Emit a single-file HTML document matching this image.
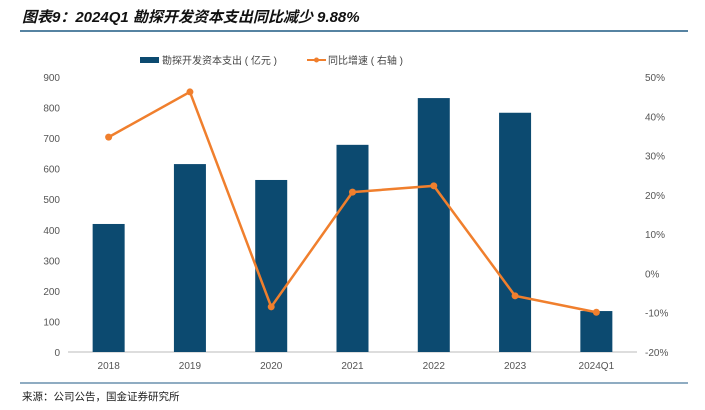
<!DOCTYPE html>
<html><head><meta charset="utf-8"><style>
body{margin:0;background:#fff;}
svg text{font-family:"Liberation Sans","Noto Sans CJK SC",sans-serif;}
</style></head><body>
<svg id="c" width="705" height="405" xmlns="http://www.w3.org/2000/svg">
<text x="22" y="22" font-size="15" font-weight="bold" font-style="italic" fill="#111">图表9：2024Q1 勘探开发资本支出同比减少 9.88%</text>
<line x1="20" y1="31" x2="688" y2="31" stroke="#1f5a84" stroke-width="1.5"/>
<g>
<rect x="140" y="57" width="19" height="6" fill="#0c4a70"/>
<text x="162" y="64" font-size="10" fill="#444">勘探开发资本支出 ( 亿元 )</text>
<line x1="307" y1="60" x2="326" y2="60" stroke="#f07f2d" stroke-width="2"/>
<circle cx="316.5" cy="60" r="2.5" fill="#f07f2d"/>
<text x="328" y="64" font-size="10" fill="#444">同比增速 ( 右轴 )</text>
</g>
<g id="plot"></g>
<line x1="20" y1="383" x2="688" y2="383" stroke="#1f5a84" stroke-width="1"/>
<text x="22" y="400" font-size="10.5" fill="#222">来源：公司公告，国金证券研究所</text>
</svg>
<script>
const categories=["2018","2019","2020","2021","2022","2023","2024Q1"];
const capex=[419,615,563,678,831,783,134];
const growth=[34.7,46.2,-8.5,20.7,22.3,-5.7,-9.88];
const leftTicks=[0,100,200,300,400,500,600,700,800,900];
const rightTicks=[-20,-10,0,10,20,30,40,50];
const NS="http://www.w3.org/2000/svg";
const g=document.getElementById('plot');
const x0=68,x1=637,yTop=77,yBot=352;
const bw=(x1-x0)/categories.length;
const xc=i=>x0+bw*(i+0.5);
const yL=v=>yBot-(v/900)*(yBot-yTop);
const yR=v=>yBot-((v+20)/70)*(yBot-yTop);
function el(t,a){const e=document.createElementNS(NS,t);for(const k in a)e.setAttribute(k,a[k]);g.appendChild(e);return e;}
const ax=el('line',{x1:x0,y1:yBot,x2:x1,y2:yBot,stroke:'#bbb','stroke-width':1});


leftTicks.forEach(v=>{const t=el('text',{x:60,y:yL(v)+4,'font-size':10,fill:'#555','text-anchor':'end'});t.textContent=v;

});
rightTicks.forEach(v=>{const t=el('text',{x:645,y:yR(v)+4,'font-size':10,fill:'#555'});t.textContent=v+'%';

});
categories.forEach((c,i)=>{
const b=el('rect',{x:xc(i)-16,y:yL(capex[i]),width:32,height:yBot-yL(capex[i]),fill:'#0c4a70'});


const t=el('text',{x:xc(i),y:369,'font-size':10,fill:'#555','text-anchor':'middle'});t.textContent=c;


});
const ln=el('polyline',{points:growth.map((v,i)=>xc(i)+','+yR(v)).join(' '),fill:'none',stroke:'#f07f2d','stroke-width':2.5});


growth.forEach((v,i)=>{const p=el('circle',{cx:xc(i),cy:yR(v),r:3.5,fill:'#f07f2d'});

});
</script>
</body></html>
